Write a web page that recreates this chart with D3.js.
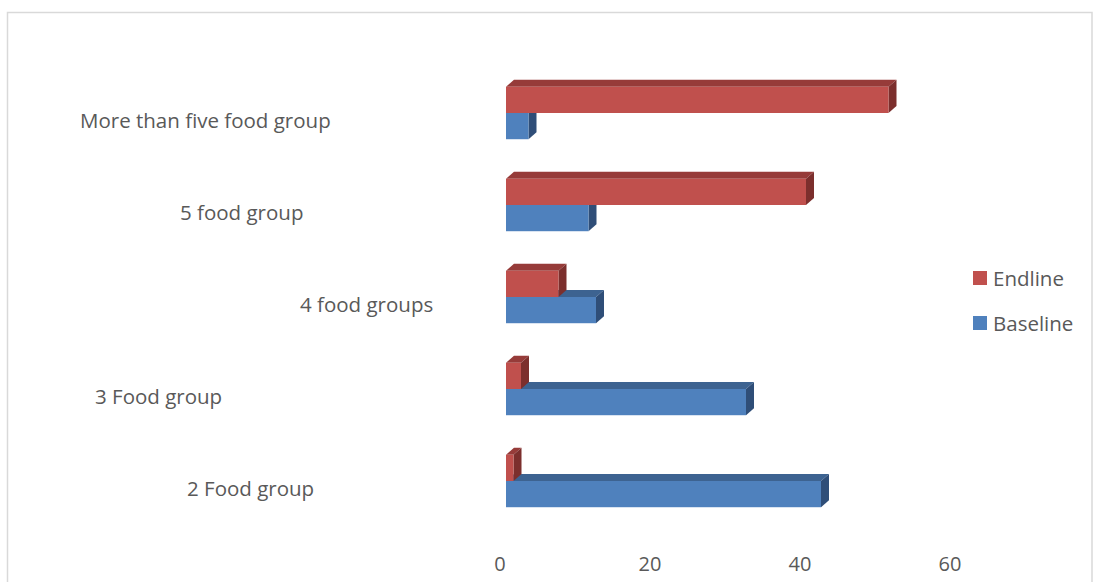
<!DOCTYPE html>
<html>
<head>
<meta charset="utf-8">
<script src="https://cdn.jsdelivr.net/npm/d3@7"></script>
<style>
  html, body { margin: 0; padding: 0; background: #fff; }
  svg { display: block; }
  text { font-family: "Open Sans", "Noto Sans", sans-serif; fill: #595959; }
</style>
</head>
<body>
<svg id="chart" width="1093" height="582"></svg>
<script>
// Food group categories, top to bottom
const categories = ["More than five food group", "5 food group", "4 food groups", "3 Food group", "2 Food group"];
// Percent of respondents per category
const endline  = [51, 40, 7, 2, 1];
const baseline = [3, 11, 12, 32, 42];
const seriesNames = ["Endline", "Baseline"];
const xTicks = [0, 20, 40, 60];

// Label start positions for the category text (hand-placed in the source chart)
const labelX = [80, 180, 300, 95, 187];

const svg = d3.select("#chart");

// Chart frame
svg.append("rect")
  .attr("x", 7.5).attr("y", 12.5)
  .attr("width", 1084.5).attr("height", 600)
  .attr("fill", "none").attr("stroke", "#d9d9d9").attr("stroke-width", 1.5);

const x = d3.scaleLinear().domain([0, 60]).range([506, 956]);
const y = d3.scaleBand().domain(categories).range([67, 527]);
const barH = y.bandwidth() * 0.285;
const depth = { dx: 8, dy: -7 };

const colors = {
  Endline:  { front: "#C0504D", top: "#963B39", side: "#7C2F2D" },
  Baseline: { front: "#4F81BD", top: "#3D6391", side: "#2F4E78" }
};

// One 3D bar: front face, top face and right side face
function bar3d(g, x0, x1, y0, h, c) {
  const { dx, dy } = depth;
  g.append("path")
    .attr("d", `M${x0},${y0} L${x0 + dx},${y0 + dy} L${x1 + dx},${y0 + dy} L${x1},${y0} Z`)
    .attr("fill", c.top);
  g.append("path")
    .attr("d", `M${x1},${y0} L${x1 + dx},${y0 + dy} L${x1 + dx},${y0 + h + dy} L${x1},${y0 + h} Z`)
    .attr("fill", c.side);
  g.append("rect")
    .attr("x", x0).attr("y", y0)
    .attr("width", x1 - x0).attr("height", h)
    .attr("fill", c.front);
}

const bars = svg.append("g");
categories.forEach((cat, i) => {
  const g = bars.append("g");
  const mid = y(cat) + y.bandwidth() / 2;
  // Baseline sits below, drawn first so Endline covers its top face
  bar3d(g, x(0), x(baseline[i]), mid, barH, colors.Baseline);
  bar3d(g, x(0), x(endline[i]), mid - barH, barH, colors.Endline);
});

// Category labels
svg.append("g").selectAll("text")
  .data(categories)
  .join("text")
  .attr("x", (d, i) => labelX[i])
  .attr("y", d => y(d) + y.bandwidth() / 2 + 7)
  .attr("dominant-baseline", "central")
  .attr("font-size", 20.5)
  .text(d => d);

// Value axis labels
svg.append("g").selectAll("text")
  .data(xTicks)
  .join("text")
  .attr("x", d => x(d) - 6)
  .attr("y", 563)
  .attr("text-anchor", "middle")
  .attr("dominant-baseline", "central")
  .attr("font-size", 20)
  .text(d => d);

// Legend
const legend = svg.append("g");
seriesNames.forEach((name, i) => {
  const ly = 278 + i * 45;
  legend.append("rect")
    .attr("x", 973).attr("y", ly - 7)
    .attr("width", 14).attr("height", 14)
    .attr("fill", colors[name].front);
  legend.append("text")
    .attr("x", 993).attr("y", ly)
    .attr("dominant-baseline", "central")
    .attr("font-size", 20.5)
    .text(name);
});
</script>
</body>
</html>
